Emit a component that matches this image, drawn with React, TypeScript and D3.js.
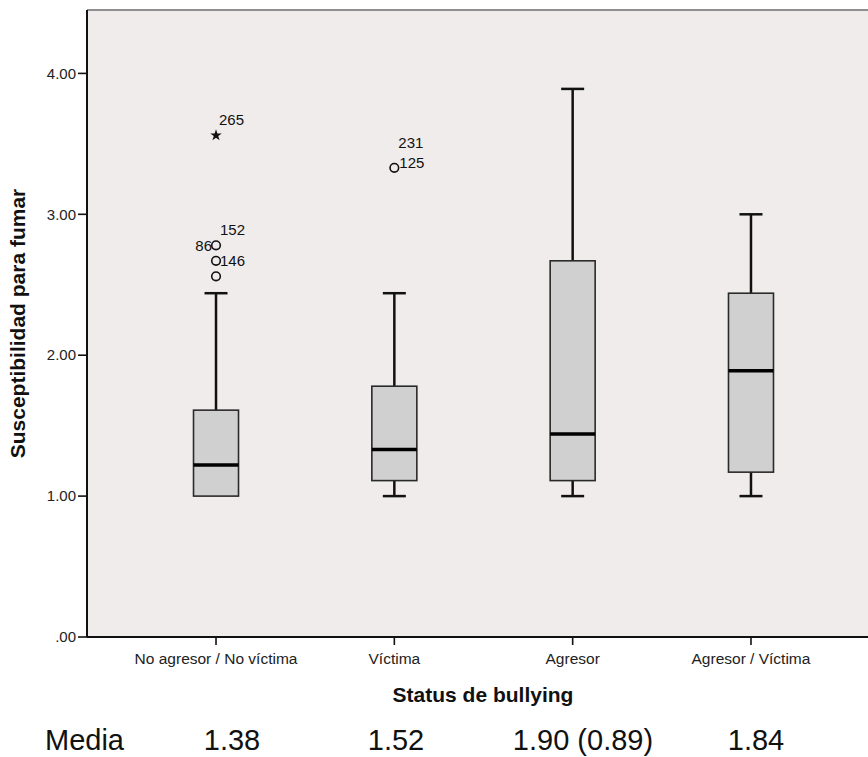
import * as d3 from "d3";

const categories = ["No agresor / No víctima", "Víctima", "Agresor", "Agresor / Víctima"];
const whiskerLow = [1.0, 1.0, 1.0, 1.0];
const q1 = [1.0, 1.11, 1.11, 1.17];
const median = [1.22, 1.33, 1.44, 1.89];
const q3 = [1.61, 1.78, 2.67, 2.44];
const whiskerHigh = [2.44, 2.44, 3.89, 3.0];

const outlierCategory = [0, 0, 0, 0, 1];
const outlierValue = [3.56, 2.78, 2.67, 2.56, 3.33];
const outlierShape = ["star", "circle", "circle", "circle", "circle"];
const outlierLabels = [["265"], ["152", "86"], ["146"], [], ["231", "125"]];

const yTicks = [0, 1, 2, 3, 4];
const meanLabels = ["1.38", "1.52", "1.90 (0.89)", "1.84"];

const W = 868;
const H = 757;
const margin = { top: 10, left: 87, bottom: 637, right: 880 };
const font = "Liberation Sans, Arial, sans-serif";

// where each case number sits next to its point
const labelOffset: Record<string, [number, number, string]> = {
  "265": [3, -16, "start"],
  "152": [4, -16, "start"],
  "86": [-4, 0, "end"],
  "146": [4, 0, "start"],
  "231": [4, -25, "start"],
  "125": [5, -5, "start"],
};
const meanRowX = [232, 396, 583, 756];

export default function App() {
  const x = d3
    .scalePoint<string>()
    .domain(categories)
    .range([margin.left, margin.right])
    .padding(0.7235);
  const y = d3.scaleLinear().domain([0, 4.45]).range([margin.bottom, margin.top]);
  const boxW = 45;
  const capW = 23;
  const star = d3.symbol(d3.symbolStar, 42)() as string;

  return (
    <svg
      width={W}
      height={H}
      style={{ position: "absolute", left: 0, top: 0, background: "#fff" }}
      fontFamily={font}
    >
      <rect
        x={margin.left}
        y={margin.top}
        width={W - margin.left}
        height={margin.bottom - margin.top}
        fill="#f0ecec"
      />
      <line x1={margin.left} x2={W} y1={margin.top} y2={margin.top} stroke="#8f8f8f" strokeWidth={2} />

      {categories.map((c, i) => {
        const cx = x(c)!;
        return (
          <g key={c}>
            <line x1={cx} x2={cx} y1={y(whiskerHigh[i])} y2={y(q3[i])} stroke="#111" strokeWidth={2.5} />
            <line x1={cx - capW / 2} x2={cx + capW / 2} y1={y(whiskerHigh[i])} y2={y(whiskerHigh[i])} stroke="#111" strokeWidth={2.5} />
            {whiskerLow[i] < q1[i] && (
              <>
                <line x1={cx} x2={cx} y1={y(q1[i])} y2={y(whiskerLow[i])} stroke="#111" strokeWidth={2.5} />
                <line x1={cx - capW / 2} x2={cx + capW / 2} y1={y(whiskerLow[i])} y2={y(whiskerLow[i])} stroke="#111" strokeWidth={2.5} />
              </>
            )}
            <rect
              x={cx - boxW / 2}
              y={y(q3[i])}
              width={boxW}
              height={y(q1[i]) - y(q3[i])}
              fill="#cfd0cf"
              stroke="#2a2a2a"
              strokeWidth={1.6}
            />
            <line x1={cx - boxW / 2} x2={cx + boxW / 2} y1={y(median[i])} y2={y(median[i])} stroke="#000" strokeWidth={3.5} />
          </g>
        );
      })}

      {outlierValue.map((v, i) => {
        const cx = x(categories[outlierCategory[i]])!;
        const cy = y(v);
        return (
          <g key={i}>
            {outlierShape[i] === "star" ? (
              <path d={star} transform={`translate(${cx},${cy})`} fill="#111" />
            ) : (
              <circle cx={cx} cy={cy} r={4.3} fill="none" stroke="#111" strokeWidth={1.6} />
            )}
            {outlierLabels[i].map((lab) => {
              const [dx, dy, anchor] = labelOffset[lab];
              return (
                <text
                  key={lab}
                  x={cx + dx}
                  y={cy + dy}
                  dy="0.35em"
                  fontSize={15}
                  textAnchor={anchor}
                  fill="#111"
                >
                  {lab}
                </text>
              );
            })}
          </g>
        );
      })}

      {/* y axis */}
      <line x1={margin.left} x2={margin.left} y1={margin.top} y2={margin.bottom} stroke="#111" strokeWidth={2} />
      {yTicks.map((t) => (
        <g key={t}>
          <line x1={margin.left - 9} x2={margin.left} y1={y(t)} y2={y(t)} stroke="#111" strokeWidth={1.6} />
          <text x={margin.left - 11} y={y(t)} dy="0.35em" textAnchor="end" fontSize={15} fill="#222">
            {t === 0 ? ".00" : t.toFixed(2)}
          </text>
        </g>
      ))}

      {/* x axis */}
      <line x1={margin.left} x2={W} y1={margin.bottom} y2={margin.bottom} stroke="#111" strokeWidth={2} />
      {categories.map((c) => (
        <g key={c}>
          <line x1={x(c)!} x2={x(c)!} y1={margin.bottom} y2={margin.bottom + 8} stroke="#111" strokeWidth={1.6} />
          <text x={x(c)!} y={664} textAnchor="middle" fontSize={15.5} fill="#222">
            {c}
          </text>
        </g>
      ))}

      <text
        transform={`translate(25,${(margin.top + margin.bottom) / 2}) rotate(-90)`}
        textAnchor="middle"
        fontSize={21}
        fontWeight="bold"
        fill="#111"
      >
        Susceptibilidad para fumar
      </text>
      <text x={483} y={702} textAnchor="middle" fontSize={21} fontWeight="bold" fill="#111">
        Status de bullying
      </text>

      <text x={45} y={750} fontSize={29} fill="#111">
        Media
      </text>
      {meanLabels.map((m, i) => (
        <text key={i} x={meanRowX[i]} y={750} textAnchor="middle" fontSize={29} fill="#111">
          {m}
        </text>
      ))}
    </svg>
  );
}
